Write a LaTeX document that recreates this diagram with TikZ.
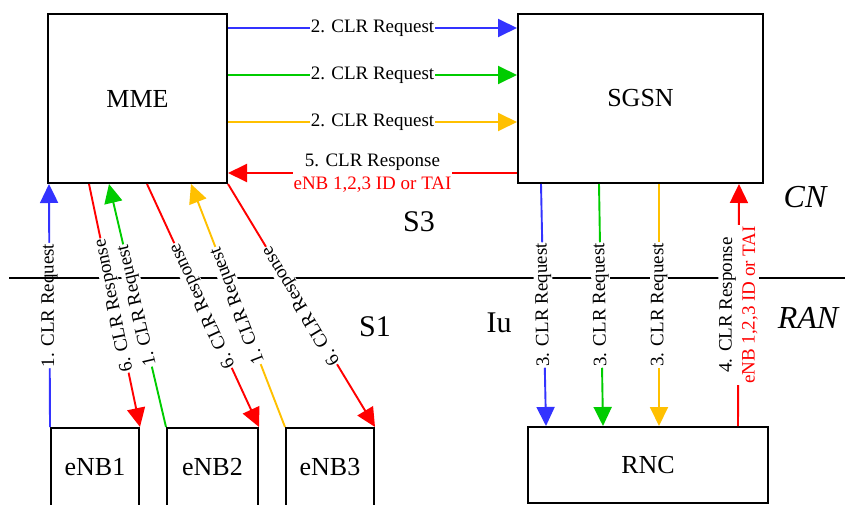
\documentclass[tikz,border=0pt]{standalone}
\usepackage{fontspec}
\setmainfont{Liberation Serif}
\usetikzlibrary{arrows.meta}
\definecolor{reqblue}{RGB}{51,51,255}
\definecolor{reqgreen}{RGB}{0,204,0}
\definecolor{reqyellow}{RGB}{255,192,0}
\definecolor{resred}{RGB}{255,0,0}

\begin{document}
\begin{tikzpicture}[x=1pt,y=-1pt,
  entity/.style={draw, line width=2pt, inner sep=0pt, font=\fontsize{26}{30}\selectfont},
  msg/.style={line width=1.9pt, -{Triangle[length=19pt,width=18pt]}},
  msgrev/.style={line width=1.9pt, {Triangle[length=19pt,width=18pt]}-},
  msglabel/.style={fill=white, inner sep=1pt, text=black, font=\fontsize{19}{23}\selectfont},
  vlabel/.style={msglabel, midway, sloped, allow upside down},
  iface/.style={font=\fontsize{30}{36}\selectfont},
  domainname/.style={font=\fontsize{32}{38}\selectfont\itshape}
]
\useasboundingbox (0,0) rectangle (848,505);

% network elements
\node[entity, minimum width=179pt, minimum height=169pt] (mme)  at (137.5,98.5) {MME};
\node[entity, minimum width=245pt, minimum height=169pt] (sgsn) at (640.5,98.5) {SGSN};
\node[entity, minimum width=88pt,  minimum height=78pt]  (enb1) at (95,467)    {eNB1};
\node[entity, minimum width=91pt,  minimum height=78pt]  (enb2) at (212.5,467) {eNB2};
\node[entity, minimum width=88pt,  minimum height=78pt]  (enb3) at (330,467)   {eNB3};
\node[entity, minimum width=240pt, minimum height=76pt]  (rnc)  at (648,465)   {RNC};

% step 1 from eNB1 (drawn below the CN/RAN boundary)
\draw[msg, reqblue] (enb1.north west) -- ([xshift=2pt]mme.south west)
  node[vlabel] {1. CLR Request};

% CN / RAN boundary
\coordinate (sepL) at (9,278);
\coordinate (sepR) at (845,278);
\draw[line width=2pt] (sepL) -- (sepR);

% S1: eNB <-> MME
\draw[msgrev, resred] (enb1.north east) -- ([xshift=42pt]mme.south west)
  node[vlabel] {6. CLR Response};
\draw[msg, reqgreen] (enb2.north west) -- ([xshift=62pt]mme.south west)
  node[vlabel] {1. CLR Request};
\draw[msgrev, resred] (enb2.north east) -- ([xshift=100pt]mme.south west)
  node[vlabel] {6. CLR Response};
\draw[msg, reqyellow] (enb3.north west) -- ([xshift=-37pt]mme.south east)
  node[vlabel] {1. CLR Request};
\draw[msgrev, resred] (enb3.north east) -- (mme.south east)
  node[vlabel] {6. CLR Response};

% S3: MME <-> SGSN
\draw[msg, reqblue] ([yshift=-15pt]mme.north east) -- ([yshift=-15pt]sgsn.north west)
  node[msglabel, midway] {2. CLR Request};
\draw[msg, reqgreen] ([yshift=-62pt]mme.north east) -- ([yshift=-62pt]sgsn.north west)
  node[msglabel, midway] {2. CLR Request};
\draw[msg, reqyellow] ([yshift=-109pt]mme.north east) -- ([yshift=-109pt]sgsn.north west)
  node[msglabel, midway] {2. CLR Request};
\draw[msg, resred] ([yshift=-160pt]sgsn.north west) -- ([yshift=-160pt]mme.north east)
  node[msglabel, midway, align=center] {5. CLR Response\\\textcolor{resred}{eNB 1,2,3 ID or TAI}};

% Iu: SGSN <-> RNC
\draw[msgrev, reqblue] ([xshift=19pt]rnc.north west) -- ([xshift=24pt]sgsn.south west)
  node[vlabel] {3. CLR Request};
\draw[msgrev, reqgreen] ([xshift=76pt]rnc.north west) -- ([xshift=82pt]sgsn.south west)
  node[vlabel] {3. CLR Request};
\draw[msgrev, reqyellow] ([xshift=132pt]rnc.north west) -- ([xshift=142pt]sgsn.south west)
  node[vlabel] {3. CLR Request};
\draw[msg, resred] ([xshift=211pt]rnc.north west) -- ([xshift=222pt]sgsn.south west)
  node[vlabel, align=center] {4. CLR Response\\\textcolor{resred}{eNB 1,2,3 ID or TAI}};

% interface and domain names
\node[iface] (s3) at (419,222) {S3};
\node[iface] (s1) at (375,327) {S1};
\node[iface] (iu) at (499,323) {Iu};
\node[domainname] (cn)  at (805,197) {CN};
\node[domainname] (ran) at (808,318) {RAN};
\end{tikzpicture}
\end{document}
